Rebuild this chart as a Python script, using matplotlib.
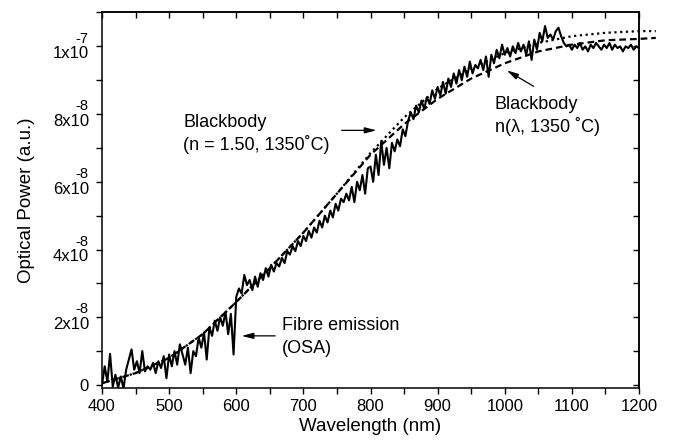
import numpy as np
import matplotlib
matplotlib.use('Agg')
import matplotlib.pyplot as plt
from matplotlib.ticker import MultipleLocator

plt.rcParams['font.family'] = ['Liberation Sans', 'DejaVu Sans']

# measured fibre emission (OSA), units of 1e-8, every 4 nm from 400 nm
fibre_wl = np.arange(400, 1201, 4)
fibre_pw = [
    0.00, 0.55, 0.10, 0.92, -0.05, 0.30, -0.08, 0.25, -0.10, 0.45,
    0.75, 1.05, 0.45, 0.70, 0.35, 1.00, 0.40, 0.55, 0.45, 0.65,
    0.35, 0.70, 0.50, 0.85, 0.20, 0.90, 0.55, 1.00, 0.60, 1.20,
    0.90, 0.60, 1.10, 0.35, 1.00, 0.85, 1.40, 1.10, 1.55, 0.75,
    1.70, 1.45, 1.90, 1.60, 2.00, 1.75, 2.15, 1.50, 2.10, 0.90,
    2.60, 2.85, 2.70, 3.25, 2.95, 3.10, 2.80, 3.20, 2.90, 3.30,
    3.10, 3.45, 3.20, 3.55, 3.35, 3.60, 3.50, 3.75, 3.60, 3.95,
    3.85, 4.10, 3.95, 4.25, 4.10, 4.40, 4.25, 4.55, 4.35, 4.65,
    4.50, 4.85, 4.65, 5.00, 4.80, 5.15, 4.95, 5.35, 5.15, 5.50,
    5.40, 5.65, 5.45, 5.85, 5.40, 6.00, 5.75, 6.20, 5.65, 6.40,
    6.45, 6.00, 6.80, 6.20, 7.20, 6.50, 7.00, 6.40, 7.15, 6.90,
    7.25, 7.05, 7.55, 7.35, 7.80, 8.05, 7.85, 8.25, 8.05, 8.40,
    8.15, 8.50, 8.30, 8.70, 8.45, 8.80, 8.55, 8.95, 8.60, 9.05,
    8.80, 9.20, 8.90, 9.30, 9.00, 9.40, 9.10, 9.55, 9.20, 9.45,
    9.35, 9.60, 9.30, 9.70, 9.10, 9.75, 9.50, 9.90, 9.65, 10.05,
    9.75, 9.95, 9.70, 10.00, 9.80, 10.10, 9.85, 10.05, 9.75, 10.15,
    9.60, 10.20, 9.90, 10.40, 10.15, 10.60, 10.25, 10.35, 10.20, 10.45,
    10.55, 10.30, 10.10, 10.00, 10.05, 9.90, 10.05, 9.95, 10.10, 9.90,
    10.00, 9.85, 10.05, 9.95, 10.10, 10.00, 9.90, 10.05, 9.95, 10.10,
    9.90, 10.05, 9.95, 10.00, 9.85, 10.00, 9.95, 10.05, 9.90, 10.00,
    9.95,
]

# blackbody curves, units of 1e-8
bb_wl = [400, 450, 500, 550, 600, 650, 700, 750, 800, 850, 900, 950,
         1000, 1050, 1100, 1150, 1200, 1225]
bb_ndisp = [0.05, 0.35, 0.80, 1.50, 2.45, 3.45, 4.50, 5.65, 6.80, 7.70,
            8.45, 9.05, 9.50, 9.85, 10.05, 10.18, 10.22, 10.25]
bb_n150 = [0.05, 0.35, 0.80, 1.50, 2.45, 3.45, 4.50, 5.65, 6.85, 7.90,
           8.75, 9.35, 9.80, 10.10, 10.30, 10.40, 10.45, 10.45]

scale = 1e-8
y_ticks = [0, 2, 4, 6, 8, 10]
y_mant = ['0', '2x10', '4x10', '6x10', '8x10', '1x10']
y_exp = ['', '-8', '-8', '-8', '-8', '-7']

fig = plt.figure(figsize=(6.76, 4.48), dpi=100)
ax = fig.add_axes([102 / 676, 1 - 388 / 448, 537 / 676, 375.5 / 448])

ax.plot(fibre_wl, np.array(fibre_pw) * scale, 'k-', lw=1.5, zorder=3)
ax.plot(bb_wl, np.array(bb_ndisp) * scale, color='k', lw=1.6,
        dashes=(3, 1.8), clip_on=False, zorder=2)
ax.plot(bb_wl, np.array(bb_n150) * scale, color='k', lw=1.6,
        dashes=(1, 1.6), clip_on=False, zorder=2)

ax.set_xlim(400, 1200)
ax.set_ylim(-0.09 * scale, 11.0 * scale)

ax.xaxis.set_major_locator(MultipleLocator(100))
ax.xaxis.set_minor_locator(MultipleLocator(50))
ax.set_yticks(np.array(y_ticks) * scale)
ax.set_yticklabels([])
ax.yaxis.set_minor_locator(MultipleLocator(1 * scale))
ax.tick_params(which='both', direction='out', length=4.5, width=1,
               labelsize=12, top=False, right=False)

# y tick labels written as mantissa + raised exponent
ytr = ax.get_yaxis_transform()
for v, m, e in zip(y_ticks, y_mant, y_exp):
    if e:
        ax.annotate(m, xy=(0, v * scale), xycoords=ytr, xytext=(-9.4, -8.5),
                    textcoords='offset points', ha='right', va='baseline', fontsize=12)
        ax.annotate(e, xy=(0, v * scale), xycoords=ytr, xytext=(-9.6, 2.7),
                    textcoords='offset points', ha='right', va='baseline', fontsize=10.5)
    else:
        ax.annotate(m, xy=(0, v * scale), xycoords=ytr, xytext=(-9.4, 0),
                    textcoords='offset points', ha='right', va='center_baseline', fontsize=12)

top = ax.secondary_xaxis('top')
top.xaxis.set_major_locator(MultipleLocator(50))
top.tick_params(direction='in', length=4.5, width=1, labeltop=False)
right = ax.secondary_yaxis('right')
right.set_yticks(np.arange(0, 11) * scale)
right.tick_params(direction='in', length=4.5, width=1, labelright=False)
for sp in list(ax.spines.values()) + [top.spines['top'], right.spines['right']]:
    sp.set_linewidth(1.1)

ax.set_xlabel('Wavelength (nm)', fontsize=13.5, labelpad=3)
ax.set_ylabel('Optical Power (a.u.)', fontsize=13.5, labelpad=40)

arrow = dict(arrowstyle='-|>,head_length=0.7,head_width=0.18', color='k',
             lw=0.9, shrinkA=0, shrinkB=0)
ax.annotate('', xy=(809, 7.52 * scale), xytext=(757, 7.52 * scale), arrowprops=arrow)
ax.annotate('', xy=(1003, 9.29 * scale), xytext=(1043, 8.82 * scale), arrowprops=arrow)
ax.annotate('', xy=(608, 1.45 * scale), xytext=(658, 1.45 * scale), arrowprops=arrow)

fs = 13
ax.text(521, 7.63 * scale, 'Blackbody', fontsize=fs, va='baseline')
ax.text(521, 6.95 * scale, '(n = 1.50, 1350˚C)', fontsize=fs, va='baseline')
ax.text(985, 8.14 * scale, 'Blackbody', fontsize=fs, va='baseline')
ax.text(985, 7.46 * scale, 'n(λ, 1350 ˚C)', fontsize=fs, va='baseline')
ax.text(668, 1.63 * scale, 'Fibre emission', fontsize=fs, va='baseline')
ax.text(668, 0.95 * scale, '(OSA)', fontsize=fs, va='baseline')

fig.savefig('out.png', dpi=100)
